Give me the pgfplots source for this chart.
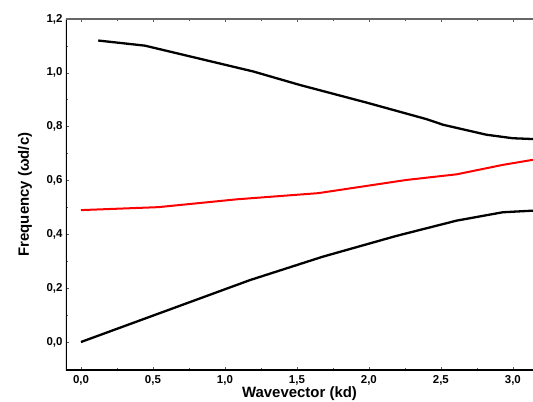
\documentclass[border=0pt]{standalone}
\usepackage{fontspec}
\setmainfont{Liberation Sans}
\usepackage{pgfplots}
\pgfplotsset{compat=1.18}

\begin{document}
\begin{tikzpicture}
\begin{axis}[
  name=ax,
  scale only axis,
  width=467bp, height=351bp,
  xmin=-0.104, xmax=3.14,
  ymin=-0.104, ymax=1.2,
  axis line style={draw=none},
  xtick={0,0.5,...,3.0},
  ytick={0,0.2,...,1.2},
  minor x tick num=1,
  minor y tick num=1,
  ytick pos=left,
  xtick pos=both,
  tick align=inside,
  major tick length=3bp,
  minor tick length=2bp,
  tick style={gray!70!black, line width=0.6bp},
  /pgf/number format/fixed,
  /pgf/number format/fixed zerofill,
  /pgf/number format/precision=1,
  /pgf/number format/use comma,
  /pgf/number format/assume math mode=true,
  tick label style={font=\bfseries\fontsize{11.5}{13}\selectfont},
  xticklabel style={yshift=-2bp},
  xlabel={Wavevector (kd)},
  ylabel={Frequency (ωd/c)},
  label style={font=\bfseries\fontsize{15}{17}\selectfont},
  xlabel style={at={(axis description cs:0.5,-0.079)}, anchor=base},
  ylabel style={at={(axis description cs:-0.088,0.5)}, anchor=center},
  clip=true,
]
\addplot[black, line width=2.3bp] coordinates {
  (0.12,1.120) (0.444,1.101) (1.197,1.005) (1.52,0.955) (1.98,0.890)
  (2.40,0.828) (2.516,0.807) (2.817,0.770) (3.0,0.757) (3.14,0.754)
};
\addplot[red, line width=2bp] coordinates {
  (0,0.490) (0.537,0.501) (1.08,0.530) (1.648,0.553) (2.26,0.602)
  (2.61,0.623) (2.93,0.658) (3.14,0.677)
};
\addplot[black, line width=2.3bp] coordinates {
  (0,0) (1.174,0.230) (1.68,0.317) (2.19,0.394) (2.61,0.451)
  (2.93,0.482) (3.14,0.488)
};
\draw[black, line width=1.4bp] (rel axis cs:0,1) -- (rel axis cs:0,0) -- (rel axis cs:1,0);
\draw[gray!80!black, line width=1.2bp] (rel axis cs:0,1) -- (rel axis cs:1,1);
\end{axis}
\pgfresetboundingbox
\path ([shift={(-66bp,-32bp)}]ax.south west) rectangle ([shift={(0bp,19bp)}]ax.north east);
\end{tikzpicture}
\end{document}
